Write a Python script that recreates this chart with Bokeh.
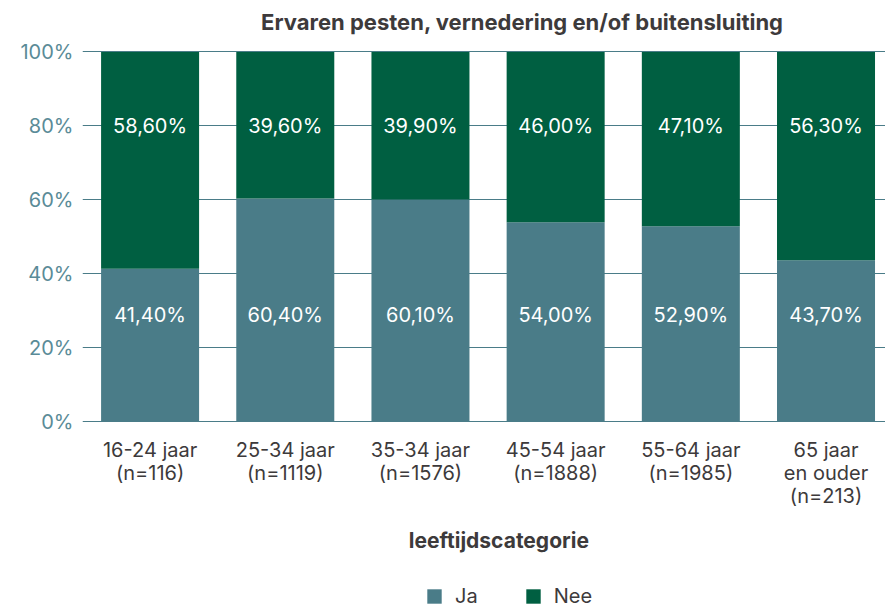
from bokeh.plotting import figure
from bokeh.models import ColumnDataSource, FixedTicker, Range1d, Legend, LegendItem, Label
from bokeh.embed import file_html
from bokeh.resources import INLINE
from bokeh.core.properties import value

categories = ["16-24 jaar\n(n=116)", "25-34 jaar\n(n=1119)", "35-34 jaar\n(n=1576)",
              "45-54 jaar\n(n=1888)", "55-64 jaar\n(n=1985)", "65 jaar\nen ouder\n(n=213)"]
ja = [41.4, 60.4, 60.1, 54.0, 52.9, 43.7]
nee = [58.6, 39.6, 39.9, 46.0, 47.1, 56.3]
y_ticks = [0, 20, 40, 60, 80, 100]
x_title = "leeftijdscategorie"
chart_title = "Ervaren pesten, vernedering en/of buitensluiting"

FONT = "Inter"
JA_COLOR = "#4a7c88"
NEE_COLOR = "#005f41"
TEXT_COLOR = "#3d3a3b"
TICK_COLOR = "#5a8b97"

def fmt(v):
    return f"{v:.2f}".replace(".", ",") + "%"

xs = list(range(len(categories)))
n = len(xs)
src = ColumnDataSource(dict(
    x=xs, ja=ja, nee=nee, cat=categories,
    ja_lbl=[fmt(v) for v in ja], nee_lbl=[fmt(v) for v in nee],
    ja_y=[29] * n, nee_y=[80] * n, cat_y=[-4.3] * n,
))

# frame spans the full height so that title, category labels and legend live inside it
p = figure(frame_width=803, frame_height=608, output_backend="svg", toolbar_location=None,
           x_range=Range1d(-0.5, 5.44), y_range=Range1d(-50.4, 113.9),
           min_border_left=82, min_border_top=0, min_border_right=0, min_border_bottom=0)
p.title = None
p.outline_line_color = None

rs = p.vbar_stack(["ja", "nee"], x="x", width=0.725, color=[JA_COLOR, NEE_COLOR],
                  line_color=None, source=src)

p.text(x="x", y="ja_y", text="ja_lbl", source=src, text_align="center", text_baseline="middle",
       text_color="white", text_font=value(FONT), text_font_size="20px")
p.text(x="x", y="nee_y", text="nee_lbl", source=src, text_align="center", text_baseline="middle",
       text_color="white", text_font=value(FONT), text_font_size="20px")

# category labels
p.text(x="x", y="cat_y", text="cat", source=src, text_align="center", text_baseline="top",
       text_color=TEXT_COLOR, text_font=value(FONT), text_font_size="20px",
       text_line_height=0.97)

# chart title
p.add_layout(Label(x=2.754, y=108.0, text=chart_title, text_align="center",
                   text_baseline="middle", text_font=FONT, text_font_size="22px",
                   text_font_style="bold", text_color=TEXT_COLOR))

# axis title
p.add_layout(Label(x=2.58, y=-32, text=x_title, text_align="center", text_baseline="middle",
                   text_font=FONT, text_font_size="21px", text_font_style="bold",
                   text_color=TEXT_COLOR))

# y axis
p.yaxis.ticker = FixedTicker(ticks=y_ticks)
p.yaxis.major_label_overrides = {v: f"{v}%" for v in y_ticks}
p.yaxis.axis_line_color = None
p.yaxis.major_tick_line_color = None
p.yaxis.major_tick_out = 0
p.yaxis.major_tick_in = 0
p.yaxis.minor_tick_line_color = None
p.yaxis.major_label_text_font = FONT
p.yaxis.major_label_text_font_size = "20px"
p.yaxis.major_label_text_color = TICK_COLOR
p.yaxis.major_label_standoff = 9

p.ygrid.ticker = FixedTicker(ticks=y_ticks)
p.ygrid.grid_line_color = JA_COLOR
p.ygrid.grid_line_width = 1
p.xgrid.grid_line_color = None
p.xaxis.visible = False

legend = Legend(items=[LegendItem(label="Ja", renderers=[rs[0]]),
                       LegendItem(label="Nee", renderers=[rs[1]])],
                orientation="horizontal", location=(343, 0),
                label_text_font=FONT, label_text_font_size="20px", label_text_color=TEXT_COLOR,
                glyph_width=18, glyph_height=18, label_height=18, label_standoff=12,
                spacing=46, border_line_color=None,
                background_fill_alpha=0, margin=0, padding=0)
p.add_layout(legend, "center")

open("out.html", "w").write(file_html(p, INLINE))
